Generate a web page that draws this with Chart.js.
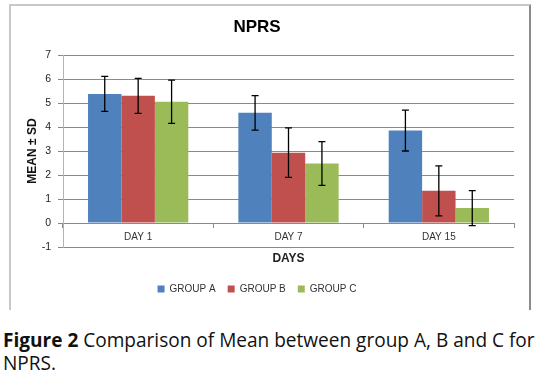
<!DOCTYPE html>
<html>
<head>
<meta charset="utf-8">
<script src="https://cdn.jsdelivr.net/npm/chart.js@4.4.1/dist/chart.umd.min.js"></script>
<style>
  body { margin: 0; background: #fff; width: 539px; height: 378px; overflow: hidden; position: relative; }
  #frame { position: absolute; left: 9px; top: 4px; width: 518px; height: 304px;
           border-top: 2px solid #c8c8c8; border-left: 2px solid #c8c8c8; border-right: 2px solid #8c8c8c; }
  #chart { position: absolute; left: 0; top: 0; }
  #caption { position: absolute; left: 3px; top: 329px; font-family: "Open Sans", sans-serif;
             font-size: 18px; line-height: 23px; color: #111; white-space: nowrap; }
</style>
</head>
<body>
<div id="frame"></div>
<canvas id="chart" width="539" height="310"></canvas>
<div id="caption"><span id="line1"><b>Figure 2</b> Comparison of Mean between group A, B and C for</span><br>NPRS.</div>
<script>
const days = ['DAY 1', 'DAY 7', 'DAY 15'];
const groupNames = ['GROUP A', 'GROUP B', 'GROUP C'];
const groupA = [5.38, 4.59, 3.85];
const groupB = [5.30, 2.93, 1.34];
const groupC = [5.05, 2.48, 0.62];
const sdA = [0.73, 0.72, 0.85];
const sdB = [0.73, 1.03, 1.04];
const sdC = [0.90, 0.91, 0.73];
const yTicks = [-1, 0, 1, 2, 3, 4, 5, 6, 7];

const colors = ['#4f81bd', '#c0504d', '#9bbb59'];
const means = [groupA, groupB, groupC];
const sds = [sdA, sdB, sdC];

// fit first caption line to the frame width
const line1 = document.getElementById('line1');
const cap = document.getElementById('caption');
cap.style.fontSize = (18 * 532 / line1.getBoundingClientRect().width) + 'px';

const errorBars = {
    id: 'errorBars',
    afterDatasetsDraw(chart) {
        const ctx = chart.ctx;
        const y = chart.scales.y;
        ctx.save();
        ctx.strokeStyle = '#000';
        ctx.lineWidth = 1.3;
        chart.data.datasets.forEach((ds, i) => {
            chart.getDatasetMeta(i).data.forEach((bar, j) => {
                const top = y.getPixelForValue(ds.data[j] + ds.sd[j]);
                const bottom = y.getPixelForValue(ds.data[j] - ds.sd[j]);
                ctx.beginPath();
                ctx.moveTo(bar.x, top);
                ctx.lineTo(bar.x, bottom);
                ctx.moveTo(bar.x - 3.5, top);
                ctx.lineTo(bar.x + 3.5, top);
                ctx.moveTo(bar.x - 3.5, bottom);
                ctx.lineTo(bar.x + 3.5, bottom);
                ctx.stroke();
            });
        });
        ctx.restore();
    }
};

const font = "'Liberation Sans', Arial, sans-serif";

new Chart(document.getElementById('chart'), {
    type: 'bar',
    data: {
        labels: days,
        datasets: groupNames.map((name, i) => ({
            label: name,
            data: means[i],
            sd: sds[i],
            backgroundColor: colors[i],
            borderWidth: 0,
            categoryPercentage: 0.667,
            barPercentage: 1
        }))
    },
    options: {
        responsive: false,
        animation: false,
        events: [],
        layout: { padding: { left: 0, right: 25, top: 0, bottom: 6 } },
        plugins: {
            title: {
                display: true,
                text: 'NPRS',
                color: '#000',
                font: { family: font, size: 17, weight: 'bold' },
                padding: { top: 17.3, bottom: 17.3 }
            },
            legend: {
                position: 'bottom',
                title: { display: true, text: '', font: { size: 10 }, padding: { top: 13, bottom: 0 } },
                labels: {
                    boxWidth: 7,
                    boxHeight: 7,
                    padding: 12,
                    color: '#333',
                    font: { family: font, size: 10 }
                }
            },
            tooltip: { enabled: false }
        },
        scales: {
            x: {
                position: { y: 0 },
                grid: {
                    drawOnChartArea: false,
                    drawTicks: true,
                    tickLength: 4,
                    color: '#8a8a8a'
                },
                border: { display: true, color: '#8a8a8a' },
                ticks: { color: '#333', padding: 4, font: { family: font, size: 10 } },
                title: {
                    display: true,
                    text: 'DAYS',
                    color: '#222',
                    font: { family: font, size: 12, weight: 'bold' },
                    padding: { top: 4, bottom: 0 }
                }
            },
            y: {
                min: -1,
                max: 7,
                afterBuildTicks(scale) {
                    scale.ticks = yTicks.map(v => ({ value: v }));
                },
                afterFit(scale) {
                    scale.width = 63;
                },
                grid: { color: '#8a8a8a', tickLength: 5 },
                border: { color: '#b4b4b4' },
                ticks: { color: '#222', padding: 7, font: { family: font, size: 10.5 } },
                title: {
                    display: true,
                    text: 'MEAN ± SD',
                    color: '#111',
                    font: { family: font, size: 12, weight: 'bold' },
                    padding: { top: 25, bottom: 0 }
                }
            }
        }
    },
    plugins: [errorBars]
});
</script>
</body>
</html>
